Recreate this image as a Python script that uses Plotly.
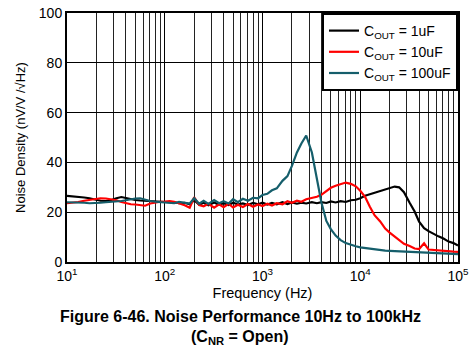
import plotly.graph_objects as go

freq = [10, 11, 12, 13, 15, 17, 20, 22, 25, 28, 32, 36, 40, 45, 50, 56, 63, 71, 80, 90,
        100, 112, 125, 140, 160, 180, 200, 225, 250, 280, 320, 360, 400, 450, 500, 560, 630, 710, 800, 900,
        1000, 1120, 1250, 1400, 1600, 1800, 2000, 2250, 2500, 2800, 3200, 3600, 4000, 4500, 5000, 5600, 6300, 7100, 8000, 9000,
        10000, 11200, 12500, 14000, 16000, 18000, 20000, 22500, 25000, 28000, 32000, 36000, 40000, 45000, 50000, 56000, 63000, 71000, 80000, 90000,
        100000]

cout_1uF = [26.6, 26.5, 26.4, 26.2, 25.9, 25.6, 25.0, 24.6, 24.5, 24.8, 25.6, 26.1, 25.7, 25.2, 24.9, 24.7, 24.6, 24.5, 24.5, 24.4,
            24.3, 24.2, 23.9, 23.6, 23.8, 23.2, 24.8, 23.0, 23.8, 22.8, 23.9, 23.0, 23.6, 22.9, 23.8, 23.1, 23.5, 22.9, 23.7, 23.2,
            23.8, 23.1, 23.7, 23.2, 24.0, 23.3, 23.9, 23.4, 23.8, 23.5, 24.0, 23.6, 24.0, 23.7, 24.3, 23.9, 24.4, 24.1, 24.8, 25.0,
            25.6, 26.6, 27.2, 27.8, 28.6, 29.2, 29.8, 30.3, 30.0, 28.0, 23.8, 20.3, 16.2, 13.6, 12.4, 11.2, 10.3, 9.4, 8.2, 7.6,
            6.6]

cout_10uF = [23.6, 23.7, 23.9, 24.1, 24.6, 25.0, 25.5, 25.6, 25.5, 25.2, 24.8, 24.1, 23.6, 23.2, 23.1, 22.8, 22.6, 23.5, 23.9, 24.2,
             24.3, 24.5, 24.2, 23.6, 22.8, 21.8, 26.0, 22.9, 22.4, 23.4, 21.8, 23.2, 22.0, 23.4, 21.9, 23.0, 22.1, 23.3, 22.2, 23.1,
             22.5, 23.4, 22.7, 23.6, 23.2, 24.4, 23.8, 24.6, 24.2, 25.2, 25.6, 26.2, 27.0, 28.6, 29.8, 30.6, 31.2, 31.9, 31.4, 30.4,
             28.6, 26.2, 22.3, 18.8, 16.3, 13.4, 11.8, 10.2, 8.9, 7.3, 6.4, 5.4, 5.2, 7.5, 5.0, 4.8, 4.7, 4.5, 4.4, 4.2,
             4.1]

cout_100uF = [24.0, 24.0, 24.0, 23.9, 23.8, 23.6, 23.6, 23.8, 24.0, 24.1, 24.3, 24.5, 24.8, 25.2, 25.5, 25.6, 25.0, 24.5, 24.2, 24.1,
              24.0, 23.9, 23.6, 24.1, 23.8, 23.5, 25.6, 23.4, 24.6, 23.3, 24.9, 23.6, 24.4, 23.5, 25.2, 24.0, 25.4, 24.6, 25.8, 25.6,
              26.9, 27.4, 28.8, 29.6, 32.6, 34.5, 38.6, 44.0, 47.6, 50.8, 44.0, 33.6, 24.0, 16.5, 13.2, 10.6, 8.8, 7.6, 6.8, 6.3,
              5.9, 5.6, 5.3, 5.0, 4.8, 4.6, 4.5, 4.4, 4.3, 4.2, 4.1, 4.1, 4.0, 3.9, 3.8, 3.8, 3.7, 3.6, 3.5, 3.4,
              3.2]

series_names = ["C<sub>OUT</sub> = 1uF", "C<sub>OUT</sub> = 10uF", "C<sub>OUT</sub> = 100uF"]
series_colors = ["#000000", "#ff0000", "#155e6b"]

x_tickvals = [10, 100, 1000, 10000, 100000]
x_ticktext = ["10<sup>1</sup>", "10<sup>2</sup>", "10<sup>3</sup>", "10<sup>4</sup>", "10<sup>5</sup>"]
minor_vals = [m * d for d in [10, 100, 1000, 10000] for m in range(2, 10)]
y_tickvals = [0, 20, 40, 60, 80, 100]

fig = go.Figure()
for vals, name, color in zip([cout_1uF, cout_10uF, cout_100uF], series_names, series_colors):
    fig.add_trace(go.Scatter(x=freq, y=vals, mode="lines", name=name,
                             line=dict(color=color, width=2.2)))

font_family = "Liberation Sans, Arial, sans-serif"
fig.update_layout(
    width=474, height=352,
    margin=dict(l=67, r=16, t=13, b=90, autoexpand=False),
    paper_bgcolor="white", plot_bgcolor="white",
    font=dict(family=font_family, size=14, color="black"),
    showlegend=True,
    legend=dict(x=1, y=1, xanchor="right", yanchor="top",
                bgcolor="white", bordercolor="black", borderwidth=2,
                font=dict(size=14, color="black"), tracegroupgap=0,
                itemwidth=30),
    annotations=[
        dict(text="<b>Figure 6-46. Noise Performance 10Hz to 100kHz</b>",
             x=0.4425, y=-0.217, xref="paper", yref="paper", showarrow=False,
             xanchor="center", yanchor="middle", font=dict(size=16, color="black")),
        dict(text="<b>(C<sub>NR</sub> = Open)</b>",
             x=0.4425, y=-0.303, xref="paper", yref="paper", showarrow=False,
             xanchor="center", yanchor="middle", font=dict(size=16, color="black")),
    ],
)
fig.update_xaxes(type="log", range=[1, 5], tickvals=x_tickvals, ticktext=x_ticktext,
                 automargin=False,
                 showgrid=True, gridcolor="#000000", gridwidth=1,
                 minor=dict(tickvals=minor_vals, showgrid=True, gridcolor="#222222", gridwidth=1, ticks=""),
                 showline=True, linecolor="black", linewidth=2, mirror=True,
                 ticks="", zeroline=False,
                 title=dict(text="Frequency (Hz)", font=dict(size=14.5), standoff=5),
                 tickfont=dict(size=14))
fig.update_yaxes(range=[0, 100], tickvals=y_tickvals,
                 automargin=False,
                 showgrid=True, gridcolor="#000000", gridwidth=1,
                 showline=True, linecolor="black", linewidth=2, mirror=True,
                 ticks="", zeroline=False,
                 title=dict(text="Noise Density (nV/V /√Hz)", font=dict(size=13), standoff=10),
                 tickfont=dict(size=14))

fig.write_html("out.html")
